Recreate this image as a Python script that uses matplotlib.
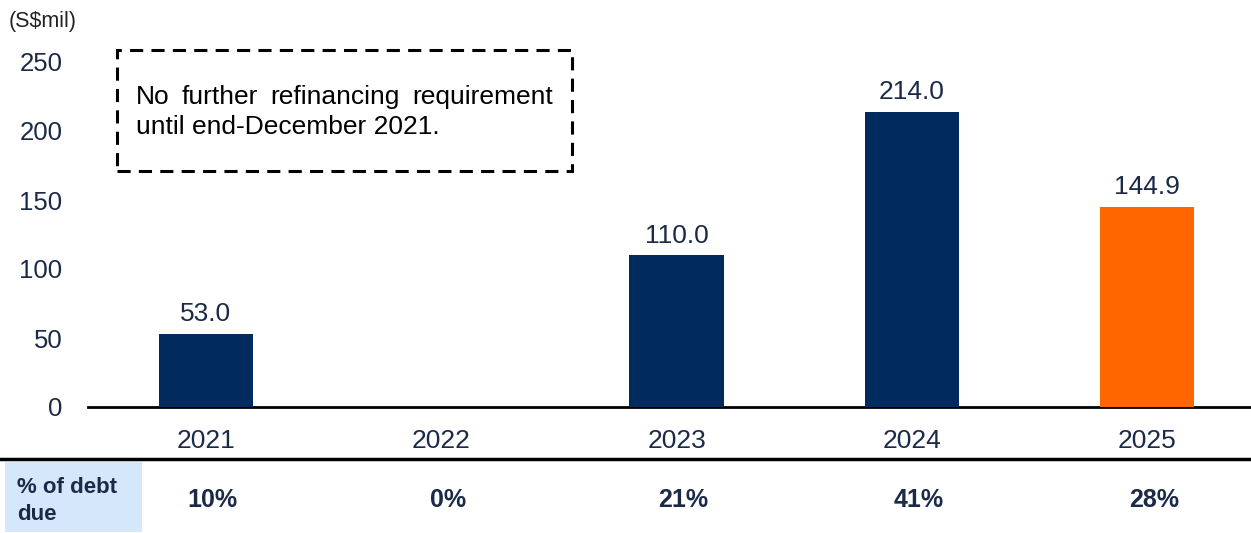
import matplotlib.pyplot as plt
import matplotlib.transforms as mtransforms
from matplotlib.patches import Rectangle

plt.rcParams['font.family'] = ['Liberation Sans', 'DejaVu Sans']

# --- dados ---
anos = ['2021', '2022', '2023', '2024', '2025']
valores = [53.0, 0.0, 110.0, 214.0, 144.9]
pct_divida = ['10%', '0%', '21%', '41%', '28%']
cores = ['#002b5c', '#002b5c', '#002b5c', '#002b5c', '#ff6600']

linha1 = 'No further refinancing requirement'
linha2 = 'until end-December 2021.'

NAVY = '#1b2a47'
W, H = 1251, 533

fig = plt.figure(figsize=(W / 100, H / 100), dpi=100)
ax = fig.add_axes([88 / W, 1 - 407 / H, 1163 / W, 345 / H])

x = list(range(len(anos)))
ax.bar(x, valores, width=0.4, color=cores, zorder=3)
for xi, v in zip(x, valores):
    if v > 0:
        ax.text(xi, v + 5.5, f"{v:.1f}", ha='center', va='bottom',
                fontsize=19, color=NAVY)

ax.set_xlim(-0.5, 4.44)
ax.set_ylim(0, 250)
ax.set_yticks([0, 50, 100, 150, 200, 250])
ax.set_xticks(x)
ax.set_xticklabels(anos)
ax.tick_params(axis='y', length=0, labelsize=18.5, labelcolor=NAVY, pad=18.5)
ax.tick_params(axis='x', length=0, labelsize=19, labelcolor=NAVY, pad=16)
for lado in ['top', 'right', 'left']:
    ax.spines[lado].set_visible(False)
ax.spines['bottom'].set_linewidth(2)
ax.spines['bottom'].set_color('black')

# unidade
fig.text(9 / W, 1 - 21 / H, '(S$mil)', fontsize=15.5, color='#222222',
         va='center', ha='left')

# caixa tracejada
fig.add_artist(Rectangle((117 / W, 1 - 171 / H), 455 / W, 121 / H,
                         transform=fig.transFigure, fill=False,
                         edgecolor='black', linestyle=(0, (4.3, 2.7)),
                         linewidth=2.2))

# primeira linha justificada entre x=136 e x=553
renderer = fig.canvas.get_renderer()
palavras = linha1.split()
objs = [fig.text(0, 1 - 97 / H, p, fontsize=19, color='black',
                 va='center', ha='left') for p in palavras]
larguras = [o.get_window_extent(renderer).width for o in objs]
espaco = (553 - 136 - sum(larguras)) / (len(palavras) - 1)
pos = 136
for o, lg in zip(objs, larguras):
    o.set_x(pos / W)
    pos += lg + espaco
fig.text(136 / W, 1 - 127 / H, linha2, fontsize=19, color='black',
         va='center', ha='left')

# tabela inferior
fig.add_artist(plt.Line2D([0, 1], [1 - 459 / H, 1 - 459 / H],
                          transform=fig.transFigure, color='black',
                          linewidth=2.5))
fig.add_artist(Rectangle((5 / W, 1 - 532 / H), 137 / W, 70 / H,
                         transform=fig.transFigure, facecolor='#d5e8fb',
                         edgecolor='none'))
fig.text(17 / W, 1 - 501 / H, '% of debt\ndue', fontsize=16,
         fontweight='bold', color=NAVY, va='center', ha='left',
         linespacing=1.4)

trans = mtransforms.blended_transform_factory(ax.transData, fig.transFigure)
for xi, p in zip(x, pct_divida):
    ax.text(xi + 0.03, 1 - 500 / H, p, transform=trans, ha='center',
            va='center', fontsize=18, fontweight='bold', color=NAVY,
            clip_on=False)

fig.savefig('out.png', dpi=100)
